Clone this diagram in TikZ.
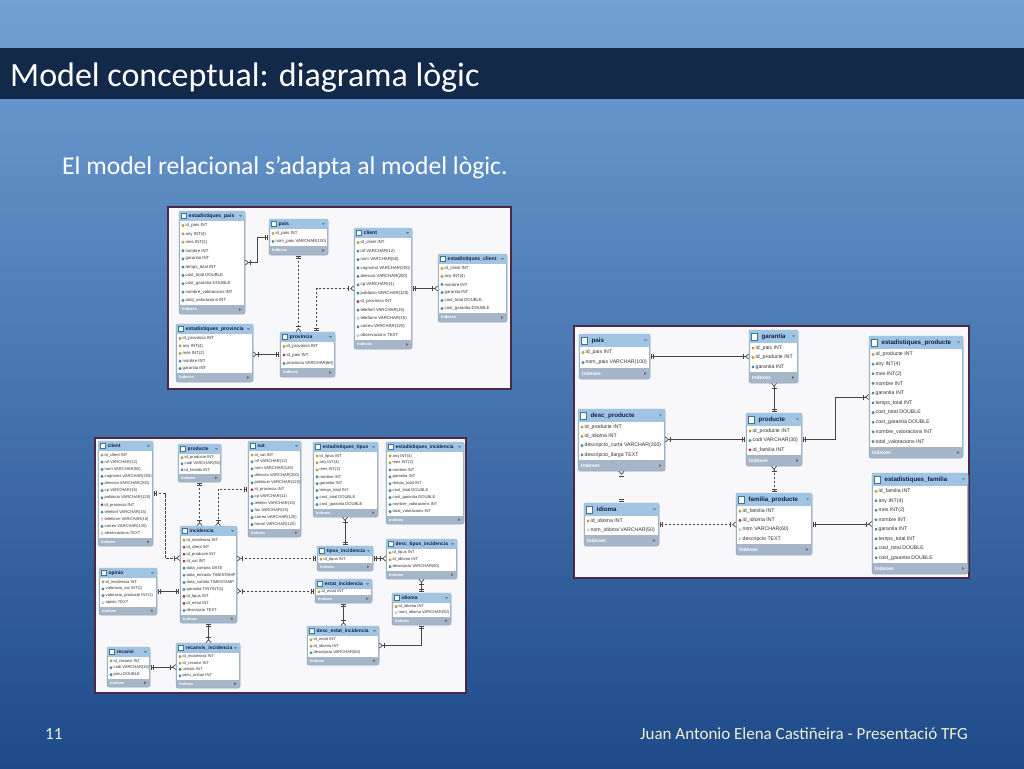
\documentclass[tikz,border=0pt]{standalone}
\usepackage{fontspec}
\setmainfont{Carlito}
\newfontfamily\tblfont{Liberation Sans}
\usetikzlibrary{calc,fit,arrows.meta}
\definecolor{bgtop}{RGB}{112,160,212}
\definecolor{bgmid}{RGB}{72,124,188}
\definecolor{bgbot}{RGB}{30,74,138}
\definecolor{titlebar}{RGB}{19,41,74}
\definecolor{footc}{RGB}{238,240,208}
\definecolor{framec}{RGB}{70,42,72}
\definecolor{panelc}{RGB}{248,248,250}
\definecolor{hdrc}{RGB}{160,196,226}
\definecolor{tblborder}{RGB}{140,166,194}
\definecolor{idxc}{RGB}{166,182,200}
\definecolor{ttlc}{RGB}{16,32,74}
\definecolor{fldc}{RGB}{48,48,48}
\definecolor{keyc}{RGB}{236,196,40}
\definecolor{colc}{RGB}{80,170,200}
\definecolor{fkc}{RGB}{206,70,70}
\definecolor{nulc}{RGB}{255,255,255}
\definecolor{relc}{RGB}{70,70,70}
\tikzset{
    panel/.style = {draw=framec, line width=1.6pt, fill=panelc},
    tblbox/.style = {draw=tblborder, fill=idxc, line width=0.5pt,
        rounded corners=2pt, inner sep=0pt, outer sep=0pt},
    hdrtxt/.style = {anchor=west, inner sep=0pt, text=ttlc,
        font=\tblfont\bfseries\fontsize{\ttlfs}{\ttlfs}\selectfont},
    fldtxt/.style = {anchor=west, inner sep=0pt, text=fldc,
        font=\tblfont\fontsize{\fldfs}{\fldfs}\selectfont},
    idxtxt/.style = {anchor=west, inner sep=0pt, text=white,
        font=\tblfont\bfseries\fontsize{\idxfs}{\idxfs}\selectfont},
    rel/.style = {draw=relc, line width=0.7pt},
    nrel/.style = {rel, dash pattern=on 2.5pt off 1.5pt},
    one2many/.style = {arrows={Bar[width=5pt,sep=1.2pt,color=relc]Bar[width=5pt,sep=1.2pt,color=relc]-Bar[width=5pt,sep=1.2pt,color=relc]Straight Barb[reversed,length=3pt,width=5pt,color=relc]}},
    one2one/.style = {arrows={Bar[width=5pt,sep=1.2pt,color=relc]Bar[width=5pt,sep=1.2pt,color=relc]-Bar[width=5pt,sep=1.2pt,color=relc]Bar[width=5pt,sep=1.2pt,color=relc]}}
}
% table: name, x1, y1, x2, y2, title, fields
\newcommand{\ertable}[7]{%
    \foreach \mk/\fld [count=\rw] in {#7} {\xdef\nrows{\rw}}
    \pgfmathsetmacro{\rowh}{(#5-#3-\hdrh-\idxh-1)/\nrows}
    \node [tblbox, fit={(#2,#3) (#4,#5)}, name=#1] {};
    \fill [hdrc, rounded corners=2pt] (#1.north west) rectangle ($(#1.north east)+(0,\hdrh)$);
    \fill [white] ($(#1.north west)+(0.6,\hdrh)$) rectangle ($(#1.south east)+(-0.6,-\idxh)$);
    \filldraw [fill=white, draw=colc!70!black, line width=0.4pt] ($(#1.north west)+(2.5,0.25*\hdrh)$) rectangle ++(0.45*\hdrh,0.5*\hdrh);
    \node [hdrtxt] at ($(#1.north west)+(0.95*\hdrh,0.5*\hdrh)$) {#6};
    \fill [tblborder!80!black] ($(#1.north east)+(-6,0.42*\hdrh)$) -- ++(3,0) -- ++(-1.5,2) -- cycle;
    \node [idxtxt] at ($(#1.south west)+(3,-0.5*\idxh)$) {Indexes};
    \fill [fldc!70] ($(#1.south east)+(-6,-0.5*\idxh-1.5)$) -- ++(0,3) -- ++(2.5,-1.5) -- cycle;
    \foreach \mk/\fld [count=\rw] in {#7} {
        \coordinate (row) at ($(#1.north west)+(0,\hdrh+0.5+\rowh*\rw-0.5*\rowh)$);
        \filldraw [fill=\mk, draw=\mk!55!black, line width=0.25pt] ($(row)+(4,0)$) circle (1.3);
        \node [fldtxt] at ($(row)+(6.5,0)$) {\fld};
    }
}

\begin{document}
\begin{tikzpicture}[x=1pt, y=-1pt]
    \useasboundingbox (0,0) rectangle (1024,768);
    \shade [top color=bgtop, middle color=bgmid, bottom color=bgbot] (0,0) rectangle (1024,768);
    \fill [titlebar] (0,48) rectangle (1024,99);
    \node [anchor=base west, inner sep=0pt, text=white, font=\fontsize{34}{40}\selectfont, name=title] at (10,86) {Model conceptual: diagrama lògic};
    \node [anchor=base west, inner sep=0pt, text=white, font=\fontsize{25.6}{30}\selectfont, name=subtitle] at (62,174) {El model relacional s’adapta al model lògic.};

    \draw [panel] (168,207) rectangle (511,389);
    \draw [panel] (95,438) rectangle (466,693);
    \draw [panel] (574,326) rectangle (969,578);

    % right panel
    \def\hdrh{13}\def\idxh{11}\def\fldfs{5.2}\def\ttlfs{6.2}\def\idxfs{5}
    \ertable{rPais}{579}{334}{650}{379}{pais}{keyc/id\_pais INT, colc/nom\_pais VARCHAR(100)}
    \ertable{rGarantia}{749}{330}{798}{383}{garantia}{keyc/id\_pais INT, keyc/id\_producte INT, colc/garantia INT}
    \ertable{rEstProducte}{869}{336}{963}{458}{estadistiques\_producte}{keyc/id\_producte INT, colc/any INT(4), colc/mes INT(2), colc/nombre INT, colc/garantia INT, colc/temps\_total INT, colc/cost\_total DOUBLE, colc/cost\_garantia DOUBLE, colc/nombre\_valoracions INT, colc/total\_valoracions INT}
    \ertable{rDescProducte}{578}{409}{665}{471}{desc\_producte}{keyc/id\_producte INT, keyc/id\_idioma INT, colc/descripcio\_curta VARCHAR(200), colc/descripcio\_llarga TEXT}
    \ertable{rProducte}{746}{413}{802}{466}{producte}{keyc/id\_producte INT, colc/codi VARCHAR(30), fkc/id\_familia INT}
    \ertable{rIdioma}{584}{503}{659}{546}{idioma}{keyc/id\_idioma INT, nulc/nom\_idioma VARCHAR(50)}
    \ertable{rFamiliaProducte}{736}{493}{812}{555}{familia\_producte}{keyc/id\_familia INT, fkc/id\_idioma INT, nulc/nom VARCHAR(60), nulc/descripcio TEXT}
    \ertable{rEstFamilia}{872}{473}{968}{574}{estadistiques\_familia}{keyc/id\_familia INT, colc/any INT(4), colc/mes INT(2), colc/nombre INT, colc/garantia INT, colc/temps\_total INT, colc/cost\_total DOUBLE, colc/cost\_garantia DOUBLE}
    \draw [rel, one2many] (rPais.east) -- (rPais.east -| rGarantia.west);
    \draw [rel, one2many] (rProducte.north) -- (rProducte.north |- rGarantia.south);
    \draw [rel, one2many] (rProducte.west) -- (rProducte.west -| rDescProducte.east);
    \draw [rel, one2many] (rProducte.east) -| ([xshift=-34pt]rEstProducte.west) -- (rEstProducte.west);
    \draw [nrel, one2many] (rFamiliaProducte.north) -- (rFamiliaProducte.north |- rProducte.south);
    \draw [nrel, one2many] (rIdioma.east) -- (rIdioma.east -| rFamiliaProducte.west);
    \draw [rel, one2many] (rFamiliaProducte.east) -- (rFamiliaProducte.east -| rEstFamilia.west);
    \draw [rel, one2many, draw=panelc] (rIdioma.north) -- (rIdioma.north |- rDescProducte.south);

    % top left panel
    \def\hdrh{10}\def\idxh{9}\def\fldfs{4.3}\def\ttlfs{5.1}\def\idxfs{4}
    \ertable{tEstPais}{179}{211}{245}{314}{estadistiques\_pais}{keyc/id\_pais INT, keyc/any INT(4), keyc/mes INT(2), colc/nombre INT, colc/garantia INT, colc/temps\_total INT, colc/cost\_total DOUBLE, colc/cost\_garantia DOUBLE, colc/nombre\_valoracions INT, colc/total\_valoracions INT}
    \ertable{tPais}{269}{219}{328}{255}{pais}{keyc/id\_pais INT, colc/nom\_pais VARCHAR(100)}
    \ertable{tEstProvincia}{176}{324}{253}{382}{estadistiques\_provincia}{keyc/id\_provincia INT, keyc/any INT(4), keyc/mes INT(2), colc/nombre INT, colc/garantia INT}
    \ertable{tProvincia}{280}{332}{335}{377}{provincia}{keyc/id\_provincia INT, fkc/id\_pais INT, colc/provincia VARCHAR(60)}
    \ertable{tClient}{354}{228}{412}{349}{client}{keyc/id\_client INT, colc/nif VARCHAR(12), colc/nom VARCHAR(50), colc/cognoms VARCHAR(200), colc/direccio VARCHAR(200), colc/cp VARCHAR(11), colc/poblacio VARCHAR(120), fkc/id\_provincia INT, colc/telefonf VARCHAR(15), nulc/telefonm VARCHAR(15), colc/correu VARCHAR(120), nulc/observacions TEXT}
    \ertable{tEstClient}{438}{254}{507}{322}{estadistiques\_client}{keyc/id\_client INT, keyc/any INT(4), colc/nombre INT, colc/garantia INT, colc/cost\_total DOUBLE, colc/cost\_garantia DOUBLE}
    \draw [rel, one2many] (tPais.west) -- ++(-12,0) |- (tEstPais.east);
    \draw [nrel, one2many] (tPais.south) -- (tPais.south |- tProvincia.north);
    \draw [rel, one2many] (tProvincia.west) -- (tProvincia.west -| tEstProvincia.east);
    \draw [nrel, one2many] ([xshift=9pt]tProvincia.north) |- (tClient.west);
    \draw [rel, one2many] (tClient.east) -- (tClient.east -| tEstClient.west);

    % bottom left panel
    \def\hdrh{10}\def\idxh{8.5}\def\fldfs{4.1}\def\ttlfs{4.9}\def\idxfs{3.8}
    \ertable{bClient}{98}{441}{153}{546}{client}{keyc/id\_client INT, colc/nif VARCHAR(12), colc/nom VARCHAR(50), colc/cognoms VARCHAR(200), colc/direccio VARCHAR(200), colc/cp VARCHAR(15), colc/poblacio VARCHAR(120), fkc/id\_provincia INT, colc/telefonf VARCHAR(15), nulc/telefonm VARCHAR(15), colc/correu VARCHAR(120), nulc/observacions TEXT}
    \ertable{bProducte}{178}{444}{221}{482}{producte}{keyc/id\_producte INT, colc/codi VARCHAR(30), colc/id\_familia INT}
    \ertable{bSat}{248}{441}{301}{537}{sat}{keyc/id\_sat INT, colc/nif VARCHAR(12), colc/nom VARCHAR(120), colc/direccio VARCHAR(200), colc/poblacio VARCHAR(120), fkc/id\_provincia INT, colc/cp VARCHAR(11), colc/telefon VARCHAR(15), colc/fax VARCHAR(15), colc/correu VARCHAR(120), colc/horari VARCHAR(120)}
    \ertable{bEstTipus}{313}{442}{378}{517}{estadistiques\_tipus}{keyc/id\_tipus INT, keyc/any INT(4), keyc/mes INT(2), colc/nombre INT, colc/garantia INT, colc/temps\_total INT, colc/cost\_total DOUBLE, colc/cost\_garantia DOUBLE}
    \ertable{bEstIncidencia}{386}{442}{464}{524}{estadistiques\_incidencia}{keyc/any INT(4), keyc/mes INT(2), colc/nombre INT, colc/garantia INT, colc/temps\_total INT, colc/cost\_total DOUBLE, colc/cost\_garantia DOUBLE, colc/nombre\_valoracions INT, colc/total\_valoracions INT}
    \ertable{bIncidencia}{180}{526}{237}{623}{incidencia}{keyc/id\_incidencia INT, fkc/id\_client INT, fkc/id\_producte INT, fkc/id\_sat INT, colc/data\_compra DATE, colc/data\_entrada TIMESTAMP, colc/data\_sortida TIMESTAMP, colc/garantia TINYINT(1), fkc/id\_tipus INT, fkc/id\_estat INT, colc/descripcio TEXT}
    \ertable{bTipusIncidencia}{317}{546}{373}{571}{tipus\_incidencia}{keyc/id\_tipus INT}
    \ertable{bDescTipus}{386}{539}{457}{579}{desc\_tipus\_incidencia}{keyc/id\_tipus INT, keyc/id\_idioma INT, colc/descripcio VARCHAR(60)}
    \ertable{bOpinio}{99}{568}{157}{615}{opinio}{keyc/id\_incidencia INT, colc/valoracio\_sat INT(1), colc/valoracio\_producte INT(1), nulc/opinio TEXT}
    \ertable{bEstatIncidencia}{315}{579}{372}{603}{estat\_incidencia}{keyc/id\_estat INT}
    \ertable{bIdioma}{392}{593}{451}{625}{idioma}{keyc/id\_idioma INT, nulc/nom\_idioma VARCHAR(50)}
    \ertable{bDescEstat}{307}{626}{379}{665}{desc\_estat\_incidencia}{keyc/id\_estat INT, keyc/id\_idioma INT, colc/descripcio VARCHAR(60)}
    \ertable{bRecanvi}{107}{647}{150}{687}{recanvi}{keyc/id\_recanvi INT, colc/codi VARCHAR(30), colc/preu DOUBLE}
    \ertable{bRecanvisIncidencia}{176}{643}{240}{688}{recanvis\_incidencia}{keyc/id\_incidencia INT, keyc/id\_recanvi INT, colc/unitats INT, colc/preu\_unitari INT}
    \draw [nrel, one2many] (bClient.east) -- ++(12,0) |- ([yshift=16.5pt]bIncidencia.west);
    \draw [nrel, one2many] (bProducte.south) -- (bProducte.south |- bIncidencia.north);
    \draw [nrel, one2many] (bSat.west) -| ([xshift=9.5pt]bIncidencia.north);
    \draw [rel, one2many] (bTipusIncidencia.north) -- (bTipusIncidencia.north |- bEstTipus.south);
    \draw [nrel, one2many] (bTipusIncidencia.west) -- (bTipusIncidencia.west -| bIncidencia.east);
    \draw [rel, one2many] (bTipusIncidencia.east) -- (bTipusIncidencia.east -| bDescTipus.west);
    \draw [nrel, one2many] (bEstatIncidencia.west) -- (bEstatIncidencia.west -| bIncidencia.east);
    \draw [rel, one2one] (bOpinio.east) -- (bOpinio.east -| bIncidencia.west);
    \draw [rel, one2many] (bIncidencia.south) -- (bIncidencia.south |- bRecanvisIncidencia.north);
    \draw [rel, one2many] (bRecanvi.east) -- (bRecanvi.east -| bRecanvisIncidencia.west);
    \draw [rel, one2many] (bEstatIncidencia.south) -- (bEstatIncidencia.south |- bDescEstat.north);
    \draw [rel, one2many] (bIdioma.north) -- (bIdioma.north |- bDescTipus.south);
    \draw [rel, one2many] (bIdioma.south) |- (bDescEstat.east);

    \node [anchor=base west, inner sep=0pt, text=footc, font=\fontsize{17}{20}\selectfont, name=pagenum] at (45,739) {11};
    \node [anchor=base east, inner sep=0pt, text=footc, font=\fontsize{17}{20}\selectfont, name=footer] at (968,739) {Juan Antonio Elena Castiñeira - Presentació TFG};
\end{tikzpicture}
\end{document}
